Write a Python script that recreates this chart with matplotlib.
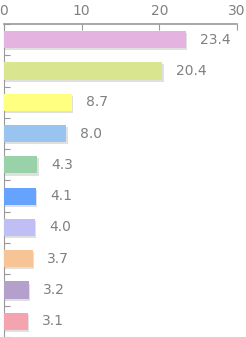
import matplotlib.pyplot as plt
import matplotlib.patheffects as pe
import numpy as np

values = [23.4, 20.4, 8.7, 8.0, 4.3, 4.1, 4.0, 3.7, 3.2, 3.1]
colors = ['#E5B3DF', '#D9E68F', '#FFFF80', '#99C4F0', '#99D1A8',
          '#66A3FF', '#BFBFF5', '#F7C496', '#B3A1CC', '#F5A3B0']
xticks = [0, 10, 20, 30]

fig = plt.figure(figsize=(2.46, 3.37), dpi=100)
ax = fig.add_axes([4 / 246, 0, 233 / 246, 1 - 24 / 337])

y = np.arange(len(values))
bars = ax.barh(y, values, height=0.55, color=colors, zorder=3)
for b in bars:
    b.set_path_effects([pe.SimplePatchShadow(offset=(1, -1.5), shadow_rgbFace='#999999', alpha=0.3),
                        pe.Normal()])

for yi, v in zip(y, values):
    ax.text(v + 1.8, yi, f'{v:.1f}', va='center', ha='left', fontsize=10, color='#808080')

ax.set_xlim(0, 30)
ax.set_ylim(len(values) - 0.5, -0.5)
ax.xaxis.tick_top()
ax.set_xticks(xticks)
ax.set_xticklabels([str(t) for t in xticks])
ax.tick_params(axis='x', direction='in', length=4, color='#999999', labelcolor='#808080',
               labelsize=10, pad=4)
ax.set_yticks(np.arange(len(values) + 1) - 0.5)
ax.set_yticklabels([])
ax.tick_params(axis='y', direction='in', length=4, color='#999999')
for s in ['right', 'bottom']:
    ax.spines[s].set_visible(False)
for s in ['top', 'left']:
    ax.spines[s].set_color('#999999')
ax.spines['top'].set_linewidth(1.2)

fig.savefig('out.png', dpi=100)
